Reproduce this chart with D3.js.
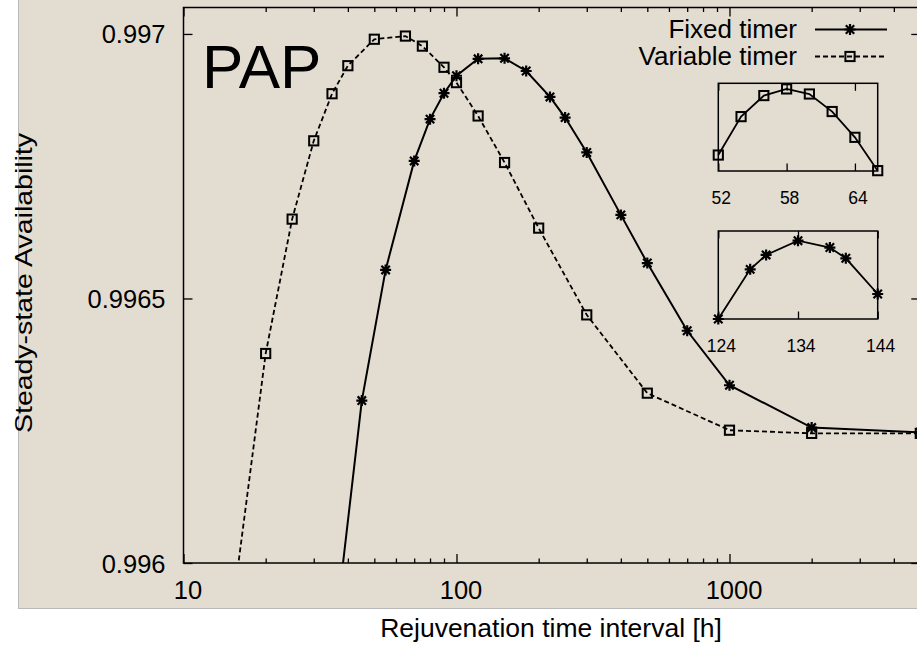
<!DOCTYPE html>
<html>
<head>
<meta charset="utf-8">
<script src="https://cdn.jsdelivr.net/npm/d3@7"></script>
<style>
  html, body { margin: 0; padding: 0; background: #ffffff; }
  svg { display: block; }
  text { font-family: "Liberation Sans", Arial, Helvetica, sans-serif; fill: #000; }
</style>
</head>
<body>
<svg id="chart" width="917" height="646"></svg>
<script>
// Rejuvenation interval (hours) and steady-state availability, fixed timer
const fixedHours = [35, 45, 55, 70, 80, 90, 100, 120, 150, 180, 220, 250, 300, 400, 500, 700, 1000, 2000, 5000];
const fixedAvail = [0.99582, 0.996307, 0.996554, 0.99676, 0.996839, 0.996888, 0.996921, 0.996953, 0.996954,
                    0.99693, 0.996881, 0.996842, 0.996776, 0.996658, 0.996567, 0.996439, 0.996336, 0.996256, 0.996247];

// Variable timer
const variableHours = [15, 20, 25, 30, 35, 40, 50, 65, 75, 90, 100, 120, 150, 200, 300, 500, 1000, 2000, 5000];
const variableAvail = [0.9959, 0.996396, 0.99665, 0.996798, 0.996887, 0.99694, 0.99699, 0.996996, 0.996977,
                       0.996937, 0.996908, 0.996845, 0.996757, 0.996633, 0.996469, 0.996321, 0.996251, 0.996245, 0.996245];

// Close-up around the variable-timer optimum
const zoomVarHours = [52, 54, 56, 58, 60, 62, 64, 66];
const zoomVarAvail = [0.99699291, 0.99699510, 0.99699630, 0.99699668, 0.99699639, 0.99699539, 0.99699392, 0.99699202];
const zoomVarTicks = [52, 58, 64];

// Close-up around the fixed-timer optimum
const zoomFixHours = [124, 128, 130, 134, 138, 140, 144];
const zoomFixAvail = [0.99695000, 0.99695282, 0.99695364, 0.99695445, 0.99695406, 0.99695345, 0.99695142];
const zoomFixTicks = [124, 134, 144];

const xMajorTicks = [10, 100, 1000];
const yTicks = [0.996, 0.9965, 0.997];
const yTickLabels = ["0.996", "0.9965", "0.997"];
const seriesNames = ["Fixed timer", "Variable timer"];

const svg = d3.select("#chart");

// panel background
svg.append("rect")
  .attr("x", 18.5).attr("y", -2).attr("width", 1000).attr("height", 610.5)
  .attr("fill", "#e3ddd1").attr("stroke", "#b9b9b9").attr("stroke-width", 1);

const plotLeft = 183.5, plotRight = 920.3, plotTop = 7.5, plotBottom = 563;
const x = d3.scaleLog().domain([10, 5000]).range([plotLeft, plotRight]);
const y = d3.scaleLinear().domain([0.996, 0.99705]).range([plotBottom, plotTop]);

// minor log ticks 20..4000
const xMinor = [];
[10, 100, 1000].forEach(d => { for (let k = 2; k <= 9; k++) { if (d * k <= 5000) xMinor.push(d * k); } });

function styleAxis(g) {
  g.select(".domain").remove();
  g.selectAll(".tick line").attr("stroke", "#000").attr("stroke-width", 1.3);
}

// bottom axis
const gBottom = svg.append("g").attr("transform", `translate(0,${plotBottom})`)
  .call(d3.axisBottom(x).tickValues(xMajorTicks).tickSize(-9).tickFormat(d3.format("d")));
styleAxis(gBottom);
gBottom.selectAll("text").attr("dy", null).attr("y", 36).attr("dx", 4)
  .style("font-size", "25.5px").attr("font-family", null);

svg.append("g").attr("transform", `translate(0,${plotBottom})`)
  .call(d3.axisBottom(x).tickValues(xMinor).tickSize(-4.5).tickFormat(""))
  .call(styleAxis);

// top mirror ticks
svg.append("g").attr("transform", `translate(0,${plotTop})`)
  .call(d3.axisTop(x).tickValues(xMajorTicks).tickSize(-9).tickFormat(""))
  .call(styleAxis);
svg.append("g").attr("transform", `translate(0,${plotTop})`)
  .call(d3.axisTop(x).tickValues(xMinor).tickSize(-4.5).tickFormat(""))
  .call(styleAxis);

// left axis
const gLeft = svg.append("g").attr("transform", `translate(${plotLeft},0)`)
  .call(d3.axisLeft(y).tickValues(yTicks).tickSize(-9).tickFormat((d, i) => yTickLabels[i]));
styleAxis(gLeft);
gLeft.selectAll("text").attr("x", -18).attr("dy", null).attr("y", 9)
  .style("font-size", "25.5px").attr("font-family", null);

// right mirror ticks
svg.append("g").attr("transform", `translate(${plotRight},0)`)
  .call(d3.axisRight(y).tickValues(yTicks).tickSize(-9).tickFormat(""))
  .call(styleAxis);

// frame
svg.append("rect")
  .attr("x", plotLeft).attr("y", plotTop).attr("width", plotRight - plotLeft).attr("height", plotBottom - plotTop)
  .attr("fill", "none").attr("stroke", "#000").attr("stroke-width", 1.5);

svg.append("clipPath").attr("id", "plotClip")
  .append("rect").attr("x", plotLeft).attr("y", plotTop).attr("width", plotRight - plotLeft + 8).attr("height", plotBottom - plotTop);

// marker shapes
const starPath = "M-5.5,0H5.5M0,-5.5V5.5M-4.2,-4.2L4.2,4.2M-4.2,4.2L4.2,-4.2";
function drawStars(g, pts) {
  g.selectAll(null).data(pts).join("path")
    .attr("transform", d => `translate(${d[0]},${d[1]})`)
    .attr("d", starPath).attr("stroke", "#000").attr("stroke-width", 2.2).attr("fill", "none");
}
function drawSquares(g, pts) {
  g.selectAll(null).data(pts).join("rect")
    .attr("x", d => d[0] - 4.6).attr("y", d => d[1] - 4.6)
    .attr("width", 9.2).attr("height", 9.2)
    .attr("stroke", "#000").attr("stroke-width", 2).attr("fill", "none");
}

const plot = svg.append("g").attr("clip-path", "url(#plotClip)");
const line = d3.line();

const fixedPts = fixedHours.map((h, i) => [x(h), y(fixedAvail[i])]);
const varPts = variableHours.map((h, i) => [x(h), y(variableAvail[i])]);

plot.append("path").attr("d", line(varPts)).attr("fill", "none")
  .attr("stroke", "#000").attr("stroke-width", 1.8).attr("stroke-dasharray", "5,3");
plot.append("path").attr("d", line(fixedPts)).attr("fill", "none")
  .attr("stroke", "#000").attr("stroke-width", 2);
drawSquares(plot.append("g"), varPts);
drawStars(plot.append("g"), fixedPts);

// panel tag
svg.append("text").attr("x", 202).attr("y", 88).style("font-size", "62px").text("PAP");

// legend
const legendY = [29.5, 56.5];
const legendBase = [37.7, 64.7];
seriesNames.forEach((name, i) => {
  svg.append("text").attr("x", 797).attr("y", legendBase[i]).attr("text-anchor", "end")
    .style("font-size", "26px").text(name);
  const l = svg.append("line").attr("x1", 815).attr("x2", 887).attr("y1", legendY[i]).attr("y2", legendY[i])
    .attr("stroke", "#000");
  if (i === 0) l.attr("stroke-width", 2);
  else l.attr("stroke-width", 1.8).attr("stroke-dasharray", "5,3");
});
drawStars(svg.append("g"), [[850, legendY[0]]]);
drawSquares(svg.append("g"), [[850, legendY[1]]]);

// close-up panels
function inset(hours, avail, ticks, domainX, domainY, y0, y1, marker) {
  const ix = d3.scaleLinear().domain(domainX).range([718.3, 877.7]);
  const iy = d3.scaleLinear().domain(domainY).range([y1, y0]);
  const g = svg.append("g");
  g.append("g").attr("transform", `translate(0,${y1})`)
    .call(d3.axisBottom(ix).tickValues(ticks).tickSize(-7.5).tickFormat(d3.format("d")))
    .call(styleAxis)
    .call(a => a.selectAll("text").attr("dy", null).attr("y", 32.5).attr("dx", 2.5)
      .style("font-size", "17.5px").attr("font-family", null));
  g.append("g").attr("transform", `translate(0,${y0})`)
    .call(d3.axisTop(ix).tickValues(ticks).tickSize(-7.5).tickFormat(""))
    .call(styleAxis);
  g.append("rect").attr("x", 718.3).attr("y", y0).attr("width", 877.7 - 718.3).attr("height", y1 - y0)
    .attr("fill", "none").attr("stroke", "#000").attr("stroke-width", 1.5);
  const pts = hours.map((h, i) => [ix(h), iy(avail[i])]);
  g.append("path").attr("d", line(pts)).attr("fill", "none").attr("stroke", "#000").attr("stroke-width", 1.8);
  marker(g.append("g"), pts);
}
inset(zoomVarHours, zoomVarAvail, zoomVarTicks, [52, 66], [0.996992, 0.996997], 83.3, 171, drawSquares);
inset(zoomFixHours, zoomFixAvail, zoomFixTicks, [124, 144], [0.99695, 0.996955], 231, 319, drawStars);

// axis titles
svg.append("text").attr("x", 551).attr("y", 637).attr("text-anchor", "middle")
  .style("font-size", "26.5px").text("Rejuvenation time interval [h]");
svg.append("text").attr("transform", "translate(31.5,283) rotate(-90)").attr("text-anchor", "middle")
  .style("font-size", "24px").attr("textLength", 300).attr("lengthAdjust", "spacingAndGlyphs")
  .text("Steady-state Availability");
</script>
</body>
</html>
